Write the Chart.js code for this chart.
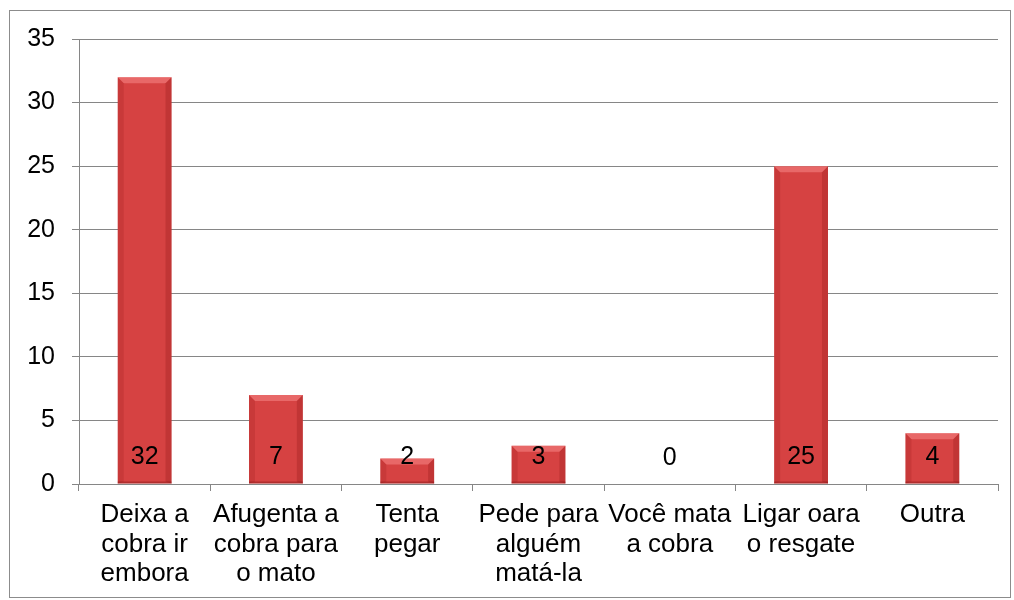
<!DOCTYPE html>
<html>
<head>
<meta charset="utf-8">
<script src="https://cdn.jsdelivr.net/npm/chart.js@4/dist/chart.umd.min.js"></script>
<style>
  html, body { margin: 0; padding: 0; background: #fff; }
  #wrap { position: relative; width: 1014px; height: 600px; }
  #frame { position: absolute; left: 9px; top: 10px; width: 1002px; height: 588px; border: 1px solid #8c8c8c; box-sizing: border-box; }
  canvas { position: absolute; left: 0; top: 0; }
</style>
</head>
<body>
<div id="wrap">
  <div id="frame"></div>
  <canvas id="myChart" width="1014" height="600"></canvas>
</div>
<script>
// categories and values
const categories = [
    ['Deixa a', 'cobra ir', 'embora'],
    ['Afugenta a', 'cobra para', 'o mato'],
    ['Tenta', 'pegar'],
    ['Pede para', 'alguém', 'matá-la'],
    ['Você mata', 'a cobra'],
    ['Ligar oara', 'o resgate'],
    ['Outra']
];
const answers = [32, 7, 2, 3, 0, 25, 4];
const yTicks = [0, 5, 10, 15, 20, 25, 30, 35];

const FONT = 'Liberation Sans, Arial, sans-serif';
const GRID = '#868686';

// bevel look on each bar
const bevelPlugin = {
    id: 'bevel',
    afterDatasetsDraw(chart) {
        const ctx = chart.ctx;
        const meta = chart.getDatasetMeta(0);
        meta.data.forEach((bar) => {
            const w = bar.width;
            const left = bar.x - w / 2, right = bar.x + w / 2;
            const top = bar.y, bottom = bar.base;
            const h = bottom - top;
            if (h < 1) return;
            const b = Math.min(6, h / 2);
            ctx.save();
            // top bevel
            ctx.fillStyle = 'rgba(255,150,150,0.45)';
            ctx.beginPath();
            ctx.moveTo(left, top); ctx.lineTo(right, top);
            ctx.lineTo(right - b, top + b); ctx.lineTo(left + b, top + b);
            ctx.closePath(); ctx.fill();
            // left edge
            ctx.fillStyle = 'rgba(120,10,10,0.15)';
            ctx.beginPath();
            ctx.moveTo(left, top); ctx.lineTo(left + b, top + b);
            ctx.lineTo(left + b, bottom - 2); ctx.lineTo(left, bottom);
            ctx.closePath(); ctx.fill();
            // right edge
            ctx.fillStyle = 'rgba(120,10,10,0.22)';
            ctx.beginPath();
            ctx.moveTo(right, top); ctx.lineTo(right - b, top + b);
            ctx.lineTo(right - b, bottom - 2); ctx.lineTo(right, bottom);
            ctx.closePath(); ctx.fill();
            // bottom edge
            ctx.fillStyle = 'rgba(110,10,10,0.35)';
            ctx.fillRect(left, bottom - 2, w, 2);
            ctx.restore();
        });
    }
};

// value labels near the base of each bar
const valueLabels = {
    id: 'valueLabels',
    afterDatasetsDraw(chart) {
        const ctx = chart.ctx;
        const meta = chart.getDatasetMeta(0);
        ctx.save();
        ctx.font = '25px ' + FONT;
        ctx.fillStyle = '#000';
        ctx.textAlign = 'center';
        ctx.textBaseline = 'middle';
        meta.data.forEach((bar, i) => {
            ctx.fillText(String(answers[i]), bar.x, bar.base - 26);
        });
        ctx.restore();
    }
};

const ctx = document.getElementById('myChart').getContext('2d');
new Chart(ctx, {
    type: 'bar',
    data: {
        labels: categories,
        datasets: [{
            data: answers,
            backgroundColor: (c) => {
                const el = c.element;
                const chartCtx = c.chart.ctx;
                if (!el || !el.width) return '#d64242';
                const g = chartCtx.createLinearGradient(el.x - el.width / 2, 0, el.x + el.width / 2, 0);
                g.addColorStop(0, '#c93838');
                g.addColorStop(0.5, '#dc4545');
                g.addColorStop(1, '#c93838');
                return g;
            },
            borderWidth: 0,
            barPercentage: 0.41,
            categoryPercentage: 1
        }]
    },
    options: {
        responsive: false,
        animation: false,
        events: [],
        layout: { padding: { top: 39, right: 16, left: 0, bottom: 0 } },
        plugins: {
            legend: { display: false },
            tooltip: { enabled: false }
        },
        scales: {
            x: {
                afterFit: (s) => { s.height = 116; },
                grid: {
                    offset: true,
                    drawOnChartArea: false,
                    drawTicks: true,
                    tickLength: 7,
                    color: GRID
                },
                border: { color: GRID, width: 1 },
                ticks: {
                    color: '#000',
                    font: { family: FONT, size: 26, lineHeight: 1.14 },
                    padding: 9,
                    maxRotation: 0,
                    autoSkip: false
                }
            },
            y: {
                min: 0,
                max: 35,
                afterFit: (s) => { s.width = 79; },
                afterBuildTicks: (s) => { s.ticks = yTicks.map(v => ({ value: v })); },
                grid: { color: GRID, tickLength: 7, lineWidth: 1 },
                border: { color: GRID, width: 1 },
                ticks: {
                    color: '#000',
                    font: { family: FONT, size: 25 },
                    padding: 17
                }
            }
        }
    },
    plugins: [bevelPlugin, valueLabels]
});
</script>
</body>
</html>
